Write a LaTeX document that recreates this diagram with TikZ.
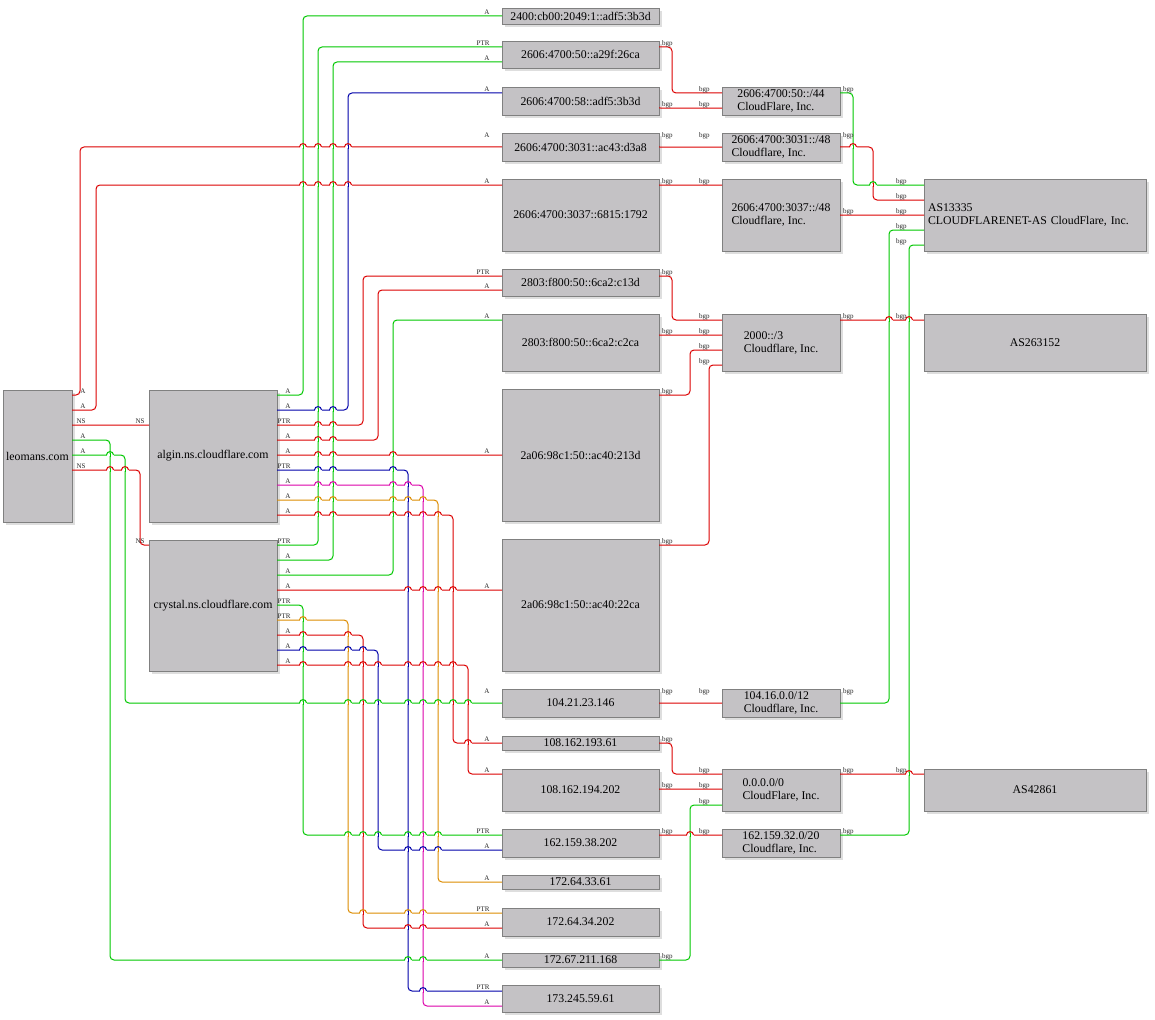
\documentclass[tikz,border=0pt]{standalone}
\usepackage{fontspec}
\setmainfont{Liberation Serif}
\usetikzlibrary{positioning,shapes,shadows}

\definecolor{boxgray}{RGB}{196,194,197}
\definecolor{lred}{RGB}{220,0,0}
\definecolor{lgreen}{RGB}{0,200,0}
\definecolor{lblue}{RGB}{0,0,170}
\definecolor{lmag}{RGB}{220,0,170}
\definecolor{lorange}{RGB}{220,140,0}

\tikzset{
  box/.style={draw=black!50, fill=boxgray, line width=0.8pt, anchor=north west,
    inner sep=0.5pt, outer sep=0pt, align=left,
    font=\fontsize{11.8}{13}\selectfont,
    drop shadow={shadow xshift=3pt, shadow yshift=-3pt, fill=black!13, opacity=1}},
  c3/.style={box, minimum width=157pt},
  c4/.style={box, minimum width=118pt},
  c5/.style={box, minimum width=222pt},
  lnk/.style={line width=1pt, rounded corners=4pt},
  er/.style={lnk, color=lred},
  eg/.style={lnk, color=lgreen},
  eb/.style={lnk, color=lblue},
  em/.style={lnk, color=lmag},
  eo/.style={lnk, color=lorange},
  lbl/.style={font=\fontsize{7}{8}\selectfont, inner sep=0pt, anchor=base east, text=black!85},
  tl/.style={lbl, xshift=14pt, yshift=1.5pt},
  hl/.style={lbl, xshift=-12pt, yshift=1.5pt},
}

\begin{document}
\begin{tikzpicture}[x=1pt,y=-1pt]
\useasboundingbox (0,0) rectangle (1155,1019);
\fill[white] (0,0) rectangle (1155,1019);

\node[box, minimum width=69pt, minimum height=132pt] (leo) at (3,390) {leomans.com};
\node[box, minimum width=128pt, minimum height=132pt] (algin) at (149,390) {algin.ns.cloudflare.com};
\node[box, minimum width=128pt, minimum height=131pt] (crystal) at (149,540) {crystal.ns.cloudflare.com};

\node[c3, minimum height=16pt] (c2400) at (502,8) {2400:cb00:2049:1::adf5:3b3d};
\node[c3, minimum height=27pt] (a29f) at (502,41) {2606:4700:50::a29f:26ca};
\node[c3, minimum height=28pt] (adf5) at (502,87) {2606:4700:58::adf5:3b3d};
\node[c3, minimum height=28pt] (ac43) at (502,133) {2606:4700:3031::ac43:d3a8};
\node[c3, minimum height=72pt] (s6815) at (502,179) {2606:4700:3037::6815:1792};
\node[c3, minimum height=27pt] (c13d) at (502,269) {2803:f800:50::6ca2:c13d};
\node[c3, minimum height=57pt] (c2ca) at (502,314) {2803:f800:50::6ca2:c2ca};
\node[c3, minimum height=132pt] (a213d) at (502,389) {2a06:98c1:50::ac40:213d};
\node[c3, minimum height=132pt] (a22ca) at (502,539) {2a06:98c1:50::ac40:22ca};
\node[c3, minimum height=28pt] (ip104) at (502,689) {104.21.23.146};
\node[c3, minimum height=14pt] (ip193) at (502,736) {108.162.193.61};
\node[c3, minimum height=42pt] (ip194) at (502,769) {108.162.194.202};
\node[c3, minimum height=28pt] (ip38) at (502,829) {162.159.38.202};
\node[c3, minimum height=14pt] (ip33) at (502,875) {172.64.33.61};
\node[c3, minimum height=28pt] (ip34) at (502,908) {172.64.34.202};
\node[c3, minimum height=14pt] (ip211) at (502,953) {172.67.211.168};
\node[c3, minimum height=27pt] (ip173) at (502,985) {173.245.59.61};

\node[c4, minimum height=28pt] (p50) at (722,87) {2606:4700:50::/44\\CloudFlare, Inc.};
\node[c4, minimum height=28pt] (p3031) at (722,133) {2606:4700:3031::/48\\Cloudflare, Inc.};
\node[c4, minimum height=72pt] (p3037) at (722,179) {2606:4700:3037::/48\\Cloudflare, Inc.};
\node[c4, minimum height=57pt] (p2000) at (722,314) {2000::/3\\Cloudflare, Inc.};
\node[c4, minimum height=28pt] (p104) at (722,689) {104.16.0.0/12\\Cloudflare, Inc.};
\node[c4, minimum height=42pt] (p0) at (722,769) {0.0.0.0/0\\CloudFlare, Inc.};
\node[c4, minimum height=28pt] (p162) at (722,829) {162.159.32.0/20\\Cloudflare, Inc.};

\node[c5, minimum height=72pt, text width=214pt] (as13335) at (924,179) {AS13335\\CLOUDFLARENET-AS CloudFlare, Inc.};
\node[c5, minimum height=57pt] (as263152) at (924,314) {AS263152};
\node[c5, minimum height=42pt] (as42861) at (924,769) {AS42861};

\draw[er] ([yshift=-5pt]leo.north east) node[tl]{A} -- ++(8,0) |- (ac43.west) node[hl,yshift=8pt]{A};
\draw[er] ([yshift=-20pt]leo.north east) node[tl]{A} -- ++(24,0) |- ([yshift=-6pt]s6815.north west) node[hl]{A};
\draw[er] ([yshift=-35pt]leo.north east) node[tl]{NS} -- ([yshift=-35.05pt]algin.north west) node[hl,xshift=8pt]{NS};
\draw[eg] ([yshift=-50pt]leo.north east) node[tl]{A} -- ++(38,0) |- (ip211.west) node[hl]{A};
\draw[eg] ([yshift=-65pt]leo.north east) node[tl]{A} -- ++(53,0) |- (ip104.west) node[hl,yshift=8pt]{A};
\draw[er] ([yshift=-80pt]leo.north east) node[tl]{NS} -- ++(68,0) |- ([yshift=-5pt]crystal.north west) node[hl,xshift=8pt]{NS};

\draw[eg] ([yshift=-5pt]algin.north east) node[tl]{A} -- ++(26,0) |- (c2400.west) node[hl]{A};
\draw[eb] ([yshift=-20pt]algin.north east) node[tl]{A} -- ++(71,0) |- ([yshift=-6pt]adf5.north west) node[hl]{A};
\draw[er] ([yshift=-35pt]algin.north east) node[tl]{PTR} -- ++(86,0) |- ([yshift=-7pt]c13d.north west) node[hl]{PTR};
\draw[er] ([yshift=-50pt]algin.north east) node[tl]{A} -- ++(101,0) |- ([yshift=-21pt]c13d.north west) node[hl]{A};
\draw[er] ([yshift=-65pt]algin.north east) node[tl]{A} -- ([yshift=-0.05pt]a213d.west) node[hl]{A};
\draw[eb] ([yshift=-80pt]algin.north east) node[tl]{PTR} -- ++(131,0) |- ([yshift=-6pt]ip173.north west) node[hl]{PTR};
\draw[em] ([yshift=-95pt]algin.north east) node[tl]{A} -- ++(146,0) |- ([yshift=-21pt]ip173.north west) node[hl]{A};
\draw[eo] ([yshift=-110pt]algin.north east) node[tl]{A} -- ++(161,0) |- (ip33.west) node[hl]{A};
\draw[er] ([yshift=-125pt]algin.north east) node[tl]{A} -- ++(176,0) |- (ip193.west) node[hl]{A};

\draw[eg] ([yshift=-5pt]crystal.north east) node[tl]{PTR} -- ++(41,0) |- ([yshift=-6pt]a29f.north west) node[hl]{PTR};
\draw[eg] ([yshift=-20pt]crystal.north east) node[tl]{A} -- ++(56,0) |- ([yshift=-21pt]a29f.north west) node[hl]{A};
\draw[eg] ([yshift=-35pt]crystal.north east) node[tl]{A} -- ++(116,0) |- ([yshift=-6pt]c2ca.north west) node[hl]{A};
\draw[er] ([yshift=-50pt]crystal.north east) node[tl]{A} -- ([yshift=-51.05pt]a22ca.north west) node[hl]{A};
\draw[eg] ([yshift=-65pt]crystal.north east) node[tl]{PTR} -- ++(26,0) |- ([yshift=-6pt]ip38.north west) node[hl]{PTR};
\draw[eo] ([yshift=-80pt]crystal.north east) node[tl]{PTR} -- ++(71,0) |- ([yshift=-5pt]ip34.north west) node[hl]{PTR};
\draw[er] ([yshift=-95pt]crystal.north east) node[tl]{A} -- ++(86,0) |- ([yshift=-20pt]ip34.north west) node[hl]{A};
\draw[eb] ([yshift=-110pt]crystal.north east) node[tl]{A} -- ++(101,0) |- ([yshift=-21pt]ip38.north west) node[hl]{A};
\draw[er] ([yshift=-125pt]crystal.north east) node[tl]{A} -- ++(191,0) |- ([yshift=-5pt]ip194.north west) node[hl]{A};

\draw[er] ([yshift=-6pt]a29f.north east) node[tl]{bgp} -- ++(13,0) |- ([yshift=-6pt]p50.north west) node[hl]{bgp};
\draw[er] ([yshift=-21pt]adf5.north east) node[tl]{bgp} -- ([yshift=-21.05pt]p50.north west) node[hl]{bgp};
\draw[er] (ac43.east) node[tl,yshift=8pt]{bgp} -- ([yshift=-0.05pt]p3031.west) node[hl,yshift=8pt]{bgp};
\draw[er] ([yshift=-6pt]s6815.north east) node[tl]{bgp} -- ([yshift=-6.05pt]p3037.north west) node[hl]{bgp};
\draw[er] ([yshift=-7pt]c13d.north east) node[tl]{bgp} -- ++(13,0) |- ([yshift=-6pt]p2000.north west) node[hl]{bgp};
\draw[er] ([yshift=-21pt]c2ca.north east) node[tl]{bgp} -- ([yshift=-21.05pt]p2000.north west) node[hl]{bgp};
\draw[er] ([yshift=-6pt]a213d.north east) node[tl]{bgp} -- ++(31,0) |- ([yshift=-36pt]p2000.north west) node[hl]{bgp};
\draw[er] ([yshift=-6pt]a22ca.north east) node[tl]{bgp} -- ++(50,0) |- ([yshift=-51pt]p2000.north west) node[hl]{bgp};
\draw[er] (ip104.east) node[tl,yshift=8pt]{bgp} -- ([yshift=-0.05pt]p104.west) node[hl,yshift=8pt]{bgp};
\draw[er] (ip193.east) node[tl]{bgp} -- ++(13,0) |- ([yshift=-5pt]p0.north west) node[hl]{bgp};
\draw[er] ([yshift=-20pt]ip194.north east) node[tl]{bgp} -- ([yshift=-20.05pt]p0.north west) node[hl]{bgp};
\draw[er] ([yshift=-6pt]ip38.north east) node[tl]{bgp} -- ([yshift=-6.05pt]p162.north west) node[hl]{bgp};
\draw[eg] (ip211.east) node[tl]{bgp} -- ++(31,0) |- ([yshift=-36pt]p0.north west) node[hl]{bgp};

\draw[eg] ([yshift=-6pt]p50.north east) node[tl]{bgp} -- ++(13,0) |- ([yshift=-6pt]as13335.north west) node[hl,xshift=-5pt]{bgp};
\draw[er] (p3031.east) node[tl,yshift=8pt]{bgp} -- ++(33,0) |- ([yshift=-21pt]as13335.north west) node[hl,xshift=-5pt]{bgp};
\draw[er] ([yshift=-36pt]p3037.north east) node[tl]{bgp} -- ([yshift=-36.05pt]as13335.north west) node[hl,xshift=-5pt]{bgp};
\draw[eg] (p104.east) node[tl,yshift=8pt]{bgp} -- ++(49,0) |- ([yshift=-51pt]as13335.north west) node[hl,xshift=-5pt]{bgp};
\draw[eg] ([yshift=-6pt]p162.north east) node[tl]{bgp} -- ++(69,0) |- ([yshift=-66pt]as13335.north west) node[hl,xshift=-5pt]{bgp};
\draw[er] ([yshift=-6pt]p2000.north east) node[tl]{bgp} -- ([yshift=-6.05pt]as263152.north west) node[hl,xshift=-5pt]{bgp};
\draw[er] ([yshift=-5pt]p0.north east) node[tl]{bgp} -- ([yshift=-5.05pt]as42861.north west) node[hl,xshift=-5pt]{bgp};

\foreach \x/\y/\hc/\vc in {
  303/147/lred/lgreen, 318/147/lred/lgreen, 333/147/lred/lgreen, 348/147/lred/lblue,
  303/185/lred/lgreen, 318/185/lred/lgreen, 333/185/lred/lgreen, 348/185/lred/lblue,
  110/455/lgreen/lgreen, 110/470/lred/lgreen, 125/470/lred/lgreen,
  303/703/lgreen/lgreen, 348/703/lgreen/lorange, 363/703/lgreen/lred, 378/703/lgreen/lblue,
  408/703/lgreen/lblue, 423/703/lgreen/lmag, 438/703/lgreen/lorange, 453/703/lgreen/lred, 468/703/lgreen/lred,
  408/960/lgreen/lblue, 423/960/lgreen/lmag,
  318/410/lblue/lgreen, 333/410/lblue/lgreen,
  318/425/lred/lgreen, 333/425/lred/lgreen,
  318/440/lred/lgreen, 333/440/lred/lgreen,
  318/455/lred/lgreen, 333/455/lred/lgreen, 393/455/lred/lgreen,
  318/470/lblue/lgreen, 333/470/lblue/lgreen, 393/470/lblue/lgreen,
  423/991/lblue/lmag,
  318/485/lmag/lgreen, 333/485/lmag/lgreen, 393/485/lmag/lgreen, 408/485/lmag/lblue,
  318/500/lorange/lgreen, 333/500/lorange/lgreen, 393/500/lorange/lgreen, 408/500/lorange/lblue, 423/500/lorange/lmag,
  318/515/lred/lgreen, 333/515/lred/lgreen, 393/515/lred/lgreen, 408/515/lred/lblue, 423/515/lred/lmag, 438/515/lred/lorange,
  468/743/lred/lred,
  408/590/lred/lblue, 423/590/lred/lmag, 438/590/lred/lorange, 453/590/lred/lred,
  348/835/lgreen/lorange, 363/835/lgreen/lred, 378/835/lgreen/lblue, 408/835/lgreen/lblue, 423/835/lgreen/lmag, 438/835/lgreen/lorange,
  303/620/lorange/lgreen,
  363/913/lorange/lred, 408/913/lorange/lblue, 423/913/lorange/lmag,
  303/635/lred/lgreen, 348/635/lred/lorange,
  408/928/lred/lblue, 423/928/lred/lmag,
  303/650/lblue/lgreen, 348/650/lblue/lorange, 363/650/lblue/lred,
  408/850/lblue/lblue, 423/850/lblue/lmag, 438/850/lblue/lorange,
  303/665/lred/lgreen, 348/665/lred/lorange, 363/665/lred/lred, 378/665/lred/lblue,
  408/665/lred/lblue, 423/665/lred/lmag, 438/665/lred/lorange, 453/665/lred/lred,
  690/835/lred/lgreen, 873/185/lgreen/lred, 853/147/lred/lgreen,
  889/320/lred/lgreen, 909/320/lred/lgreen, 909/774/lred/lgreen}{
  \fill[white] (\x-3.5,\y-1.4) rectangle (\x+3.5,\y+1.4);
  \draw[lnk,color=\vc] (\x,\y-2) -- (\x,\y+2);
  \draw[lnk,color=\hc] (\x-3.5,\y) .. controls (\x-3.5,\y-4.5) and (\x+3.5,\y-4.5) .. (\x+3.5,\y);
}
\end{tikzpicture}
\end{document}
